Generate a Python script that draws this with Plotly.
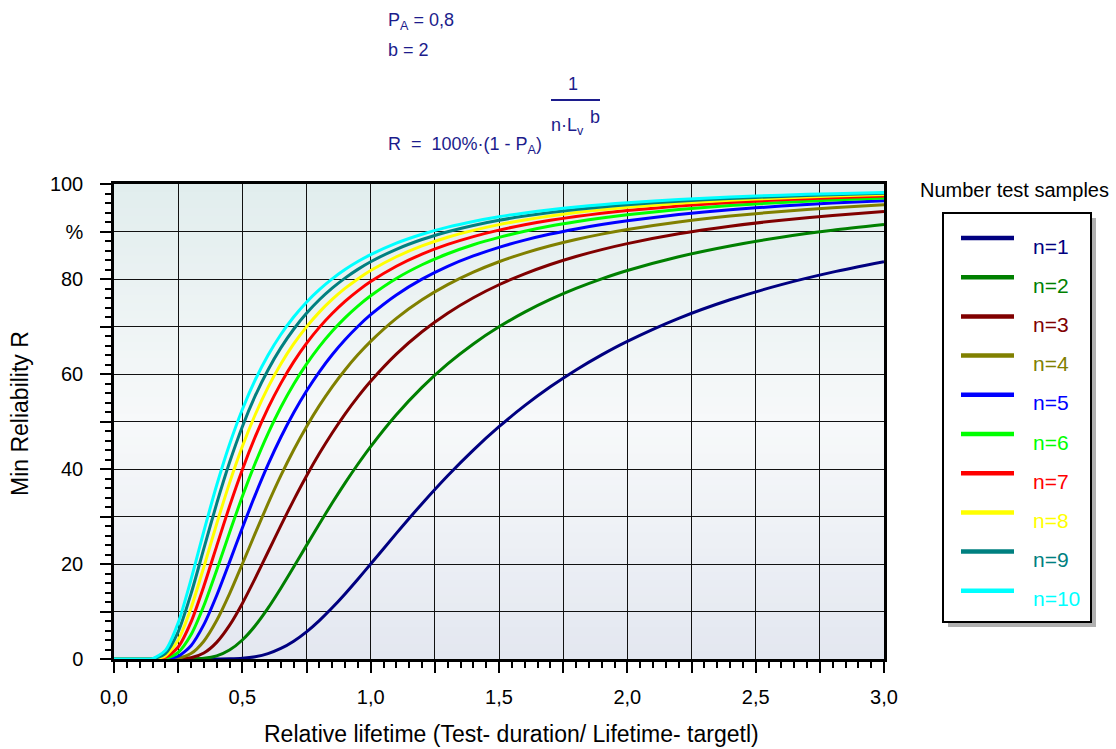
import plotly.graph_objects as go

# ---------------- data ----------------
lifetime = [0, 0.05, 0.1, 0.15, 0.2, 0.25, 0.3, 0.35, 0.4, 0.45, 0.5, 0.55, 0.6, 0.65,
            0.7, 0.75, 0.8, 0.85, 0.9, 0.95, 1.0, 1.1, 1.2, 1.3, 1.4, 1.5, 1.6, 1.7,
            1.8, 1.9, 2.0, 2.2, 2.4, 2.6, 2.8, 3.0]

r_n1 = [0, 0, 0, 0, 0, 0, 0, 0, 0.0, 0.04, 0.16, 0.49, 1.14, 2.22, 3.75, 5.72, 8.09, 10.78,
        13.71, 16.81, 20.0, 26.44, 32.70, 38.59, 43.99, 48.90, 53.33, 57.30, 60.85, 64.03,
        66.87, 71.71, 75.62, 78.81, 81.44, 83.63]
r_n2 = [0, 0, 0, 0, 0, 0, 0.01, 0.14, 0.65, 1.88, 4.00, 6.99, 10.70, 14.89, 19.35, 23.92,
        28.44, 32.83, 37.03, 41.00, 44.72, 51.42, 57.19, 62.12, 66.33, 69.93, 73.03, 75.70,
        78.01, 80.02, 81.78, 84.68, 86.96, 88.78, 90.24, 91.45]
r_n3 = [0, 0, 0, 0, 0, 0.02, 0.26, 1.25, 3.50, 7.07, 11.70, 16.97, 22.53, 28.09, 33.46,
        38.53, 43.25, 47.59, 51.57, 55.19, 58.48, 64.19, 68.90, 72.80, 76.06, 78.79, 81.09,
        83.06, 84.74, 86.19, 87.45, 89.51, 91.11, 92.37, 93.39, 94.21]
r_n4 = [0, 0, 0, 0, 0.0, 0.16, 1.14, 3.75, 8.09, 13.71, 20.0, 26.44, 32.70, 38.59, 43.99,
        48.90, 53.33, 57.30, 60.85, 64.03, 66.87, 71.71, 75.62, 78.81, 81.44, 83.63, 85.46,
        87.00, 88.32, 89.45, 90.43, 92.02, 93.25, 94.22, 95.00, 95.63]
r_n5 = [0, 0, 0, 0, 0.03, 0.58, 2.80, 7.23, 13.37, 20.40, 27.59, 34.50, 40.90, 46.68, 51.84,
        56.43, 60.47, 64.05, 67.21, 70.00, 72.48, 76.64, 79.97, 82.66, 84.85, 86.67, 88.18,
        89.46, 90.54, 91.47, 92.27, 93.57, 94.57, 95.35, 95.98, 96.49]
r_n6 = [0, 0, 0, 0, 0.12, 1.37, 5.08, 11.20, 18.70, 26.59, 34.20, 41.20, 47.47, 53.00, 57.84,
        62.07, 65.76, 68.99, 71.81, 74.29, 76.47, 80.12, 83.00, 85.32, 87.21, 88.76, 90.05,
        91.14, 92.05, 92.84, 93.51, 94.61, 95.45, 96.11, 96.64, 97.06]
r_n7 = [0, 0, 0, 0, 0.32, 2.53, 7.77, 15.31, 23.76, 32.13, 39.86, 46.76, 52.80, 58.03, 62.55,
        66.45, 69.82, 72.74, 75.29, 77.51, 79.46, 82.69, 85.24, 87.28, 88.93, 90.29, 91.41,
        92.35, 93.15, 93.83, 94.41, 95.36, 96.09, 96.66, 97.11, 97.48]
r_n8 = [0, 0, 0, 0.01, 0.65, 4.00, 10.70, 19.35, 28.44, 37.03, 44.72, 51.42, 57.19, 62.12,
        66.33, 69.93, 73.03, 75.70, 78.01, 80.02, 81.78, 84.68, 86.96, 88.78, 90.24, 91.45,
        92.44, 93.28, 93.98, 94.58, 95.09, 95.93, 96.57, 97.07, 97.47, 97.79]
r_n9 = [0, 0, 0, 0.04, 1.14, 5.72, 13.71, 23.23, 32.70, 41.35, 48.90, 55.37, 60.85, 65.49,
        69.42, 72.77, 75.62, 78.07, 80.19, 82.03, 83.63, 86.26, 88.32, 89.96, 91.28, 92.36,
        93.25, 94.00, 94.63, 95.17, 95.63, 96.37, 96.94, 97.39, 97.74, 98.03]
r_n10 = [0, 0, 0, 0.08, 1.79, 7.61, 16.72, 26.88, 36.57, 45.17, 52.53, 58.74, 63.95, 68.32,
         72.00, 75.12, 77.76, 80.03, 81.98, 83.67, 85.13, 87.55, 89.43, 90.92, 92.12, 93.10,
         93.91, 94.58, 95.15, 95.64, 96.06, 96.73, 97.24, 97.65, 97.97, 98.23]

series_names = ["n=1", "n=2", "n=3", "n=4", "n=5", "n=6", "n=7", "n=8", "n=9", "n=10"]
series_values = [r_n1, r_n2, r_n3, r_n4, r_n5, r_n6, r_n7, r_n8, r_n9, r_n10]
series_colors = ["#000080", "#008000", "#800000", "#808000", "#0000FF",
                 "#00FF00", "#FF0000", "#FFFF00", "#008080", "#00FFFF"]

x_tickvals = [0, 0.25, 0.5, 0.75, 1.0, 1.25, 1.5, 1.75, 2.0, 2.25, 2.5, 2.75, 3.0]
x_ticktext = ["0,0", "", "0,5", "", "1,0", "", "1,5", "", "2,0", "", "2,5", "", "3,0"]
y_tickvals = [0, 10, 20, 30, 40, 50, 60, 70, 80, 90, 100]
y_ticktext = ["0", "", "20", "", "40", "", "60", "", "80", "%", "100"]

FONT = "Liberation Sans, Arial, sans-serif"
NAVY = "#1c1c8c"

# ---------------- layout geometry (pixels) ----------------
W, H = 1116, 749
L, R, T, B = 114, 884, 184, 659


def PX(px):
    return (px - L) / (R - L)


def PY(py):
    return (B - py) / (B - T)


fig = go.Figure()

for name, vals, col in zip(series_names, series_values, series_colors):
    fig.add_trace(go.Scatter(
        x=lifetime, y=vals, mode="lines", name=name,
        line=dict(color=col, width=3, shape="spline", smoothing=0.7),
        showlegend=False, hoverinfo="x+y+name"))

shapes = []
# background vertical gradient of the plot area
stops = [(0.0, (227, 231, 240)), (0.5, (247, 249, 250)), (1.0, (225, 237, 237))]


def bg_color(t):
    for (t0, c0), (t1, c1) in zip(stops[:-1], stops[1:]):
        if t0 <= t <= t1:
            f = (t - t0) / (t1 - t0)
            return "rgb(%d,%d,%d)" % tuple(round(a + (b - a) * f) for a, b in zip(c0, c1))
    return "rgb(%d,%d,%d)" % stops[-1][1]


N = 60
for i in range(N):
    y0 = i / N
    y1 = (i + 1) / N
    shapes.append(dict(type="rect", xref="x domain", yref="y domain", x0=0, x1=1,
                       y0=y0, y1=y1 + 0.002, fillcolor=bg_color((y0 + y1) / 2),
                       line=dict(width=0), layer="below"))

# legend box with shadow
shapes.append(dict(type="rect", xref="paper", yref="paper",
                   x0=PX(948), x1=PX(1096), y0=PY(627), y1=PY(218),
                   fillcolor="#b0b0b0", line=dict(width=0), layer="above"))
shapes.append(dict(type="rect", xref="paper", yref="paper",
                   x0=PX(943), x1=PX(1091), y0=PY(622), y1=PY(213),
                   fillcolor="white", line=dict(color="black", width=2), layer="above"))
for i, col in enumerate(series_colors):
    yy = 238 + 39.2 * i
    shapes.append(dict(type="line", xref="paper", yref="paper",
                       x0=PX(961), x1=PX(1014), y0=PY(yy), y1=PY(yy),
                       line=dict(color=col, width=4.5), layer="above"))

# formula fraction bar
shapes.append(dict(type="line", xref="paper", yref="paper",
                   x0=PX(551), x1=PX(600), y0=PY(100), y1=PY(100),
                   line=dict(color=NAVY, width=2), layer="above"))

annotations = []
for i, (name, col) in enumerate(zip(series_names, series_colors)):
    annotations.append(dict(text=name, xref="paper", yref="paper",
                            x=PX(1031), y=PY(246 + 39.2 * i), xanchor="left",
                            yanchor="middle", showarrow=False,
                            font=dict(family=FONT, size=21, color=col)))
annotations.append(dict(text="Number test samples", xref="paper", yref="paper",
                        x=PX(1014), y=PY(190), xanchor="center", yanchor="middle",
                        showarrow=False, font=dict(family=FONT, size=20, color="black")))

# axis titles
annotations.append(dict(text="Min Reliability R", xref="paper", yref="paper",
                        x=PX(20), y=PY(414), xanchor="center", yanchor="middle",
                        textangle=-90, showarrow=False,
                        font=dict(family=FONT, size=23, color="black")))
annotations.append(dict(text="Relative lifetime (Test- duration/ Lifetime- targetl)",
                        xref="paper", yref="paper", x=PX(512), y=PY(734),
                        xanchor="center", yanchor="middle", showarrow=False,
                        font=dict(family=FONT, size=23, color="black")))

# formula text
ff = dict(family=FONT, size=18, color=NAVY)
annotations += [
    dict(text="P<sub>A</sub> = 0,8", xref="paper", yref="paper", x=PX(386), y=PY(21),
         xanchor="left", yanchor="middle", showarrow=False, font=ff),
    dict(text="b = 2", xref="paper", yref="paper", x=PX(386), y=PY(50),
         xanchor="left", yanchor="middle", showarrow=False, font=ff),
    dict(text="1", xref="paper", yref="paper", x=PX(573), y=PY(84),
         xanchor="center", yanchor="middle", showarrow=False, font=ff),
    dict(text="R\u00a0\u00a0=\u00a0\u00a0100%\u00b7(1 - P<sub>A</sub>)", xref="paper",
         yref="paper", x=PX(386), y=PY(145), xanchor="left", yanchor="middle",
         showarrow=False, font=ff),
    dict(text="n\u00b7L<sub>v</sub>", xref="paper", yref="paper", x=PX(549), y=PY(126),
         xanchor="left", yanchor="middle", showarrow=False, font=ff),
    dict(text="b", xref="paper", yref="paper", x=PX(588), y=PY(117),
         xanchor="left", yanchor="middle", showarrow=False, font=ff),
]

fig.update_layout(
    width=W, height=H,
    margin=dict(l=L, r=W - R, t=T, b=H - B, pad=0),
    paper_bgcolor="white", plot_bgcolor="white",
    shapes=shapes, annotations=annotations,
    font=dict(family=FONT, size=20, color="black"),
    xaxis=dict(range=[0, 3], tickvals=x_tickvals, ticktext=x_ticktext,
               ticks="outside", ticklen=11, tickwidth=1.5, tickcolor="black",
               ticklabelstandoff=7,
               showgrid=True, gridcolor="#111111", gridwidth=1,
               showline=True, linecolor="black", linewidth=2.5, mirror=True,
               zeroline=False, tickfont=dict(size=20, family=FONT, color="black"),
               minor=dict(dtick=0.05, tick0=0, ticks="outside", ticklen=6,
                          tickwidth=1.5, tickcolor="black", showgrid=False)),
    yaxis=dict(range=[0, 100], tickvals=y_tickvals, ticktext=y_ticktext,
               ticks="outside", ticklen=11, tickwidth=1.5, tickcolor="black",
               ticklabelstandoff=13,
               showgrid=True, gridcolor="#111111", gridwidth=1,
               showline=True, linecolor="black", linewidth=2.5, mirror=True,
               zeroline=False, tickfont=dict(size=20, family=FONT, color="black"),
               minor=dict(dtick=2, tick0=0, ticks="outside", ticklen=6,
                          tickwidth=1.5, tickcolor="black", showgrid=False)),
)

fig.write_html("out.html")
